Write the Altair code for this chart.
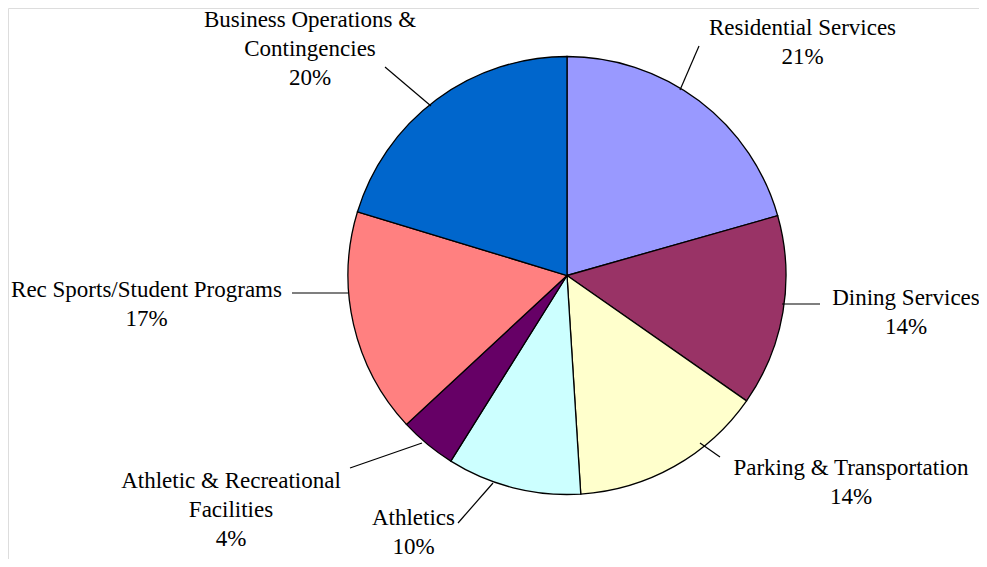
import altair as alt
import pandas as pd

# ---- data ----
categories = [
    "Residential Services",
    "Dining Services",
    "Parking & Transportation",
    "Athletics",
    "Athletic & Recreational Facilities",
    "Rec Sports/Student Programs",
    "Business Operations & Contingencies",
]
shares = [20.6, 14.1, 14.3, 9.9, 4.2, 16.6, 20.3]
pct_labels = ["21%", "14%", "14%", "10%", "4%", "17%", "20%"]
label_lines = [
    "Residential Services",
    "Dining Services",
    "Parking & Transportation",
    "Athletics",
    "Athletic & Recreational\nFacilities",
    "Rec Sports/Student Programs",
    "Business Operations &\nContingencies",
]
colors = ["#9999FF", "#993366", "#FFFFCC", "#CCFFFF", "#660066", "#FF8080", "#0066CC"]

# ---- layout (chart pixel coordinates, origin at top-left of chart) ----
CX, CY, R = 559, 267.5, 219
label_x = [794.5, 898, 843, 405.5, 223, 138.5, 302]
label_y = [27, 297, 467, 517, 480, 289, 19]
leader_x1 = [691, 774, 692, 450, 342, 284, 377]
leader_y1 = [38, 296, 435, 515, 460, 285, 59]
leader_x2 = [672, 812, 712, 485, 414, 340, 423]
leader_y2 = [82, 296, 449, 475, 435, 285, 98]

df = pd.DataFrame({
    "category": categories,
    "share": shares,
    "order": list(range(len(categories))),
    "label": [f"{l}\n{p}" for l, p in zip(label_lines, pct_labels)],
    "lx": label_x,
    "ly": label_y,
    "x1": leader_x1,
    "y1": leader_y1,
    "x2": leader_x2,
    "y2": leader_y2,
})

base = alt.Chart(df)

pie = base.mark_arc(outerRadius=R, stroke="black", strokeWidth=1.3).encode(
    theta=alt.Theta("share:Q", stack=True),
    order=alt.Order("order:Q"),
    color=alt.Color("category:N", scale=alt.Scale(domain=categories, range=colors), legend=None),
    x=alt.value(CX),
    y=alt.value(CY),
)

leaders = base.mark_rule(color="black", strokeWidth=1.2).encode(
    x=alt.X("x1:Q", scale=None),
    y=alt.Y("y1:Q", scale=None),
    x2="x2:Q",
    y2="y2:Q",
)

labels = base.mark_text(
    font="Liberation Serif",
    fontSize=23,
    lineBreak="\n",
    lineHeight=29,
    align="center",
    baseline="alphabetic",
    color="black",
).encode(
    x=alt.X("lx:Q", scale=None),
    y=alt.Y("ly:Q", scale=None),
    text="label:N",
)

chart = alt.layer(pie, leaders, labels).properties(
    width=971,
    height=551,
    padding=0,
    autosize="none",
).configure_view(stroke=None).configure(background="white")

chart.save("out.html", embed_options={"renderer": "svg", "actions": False})
